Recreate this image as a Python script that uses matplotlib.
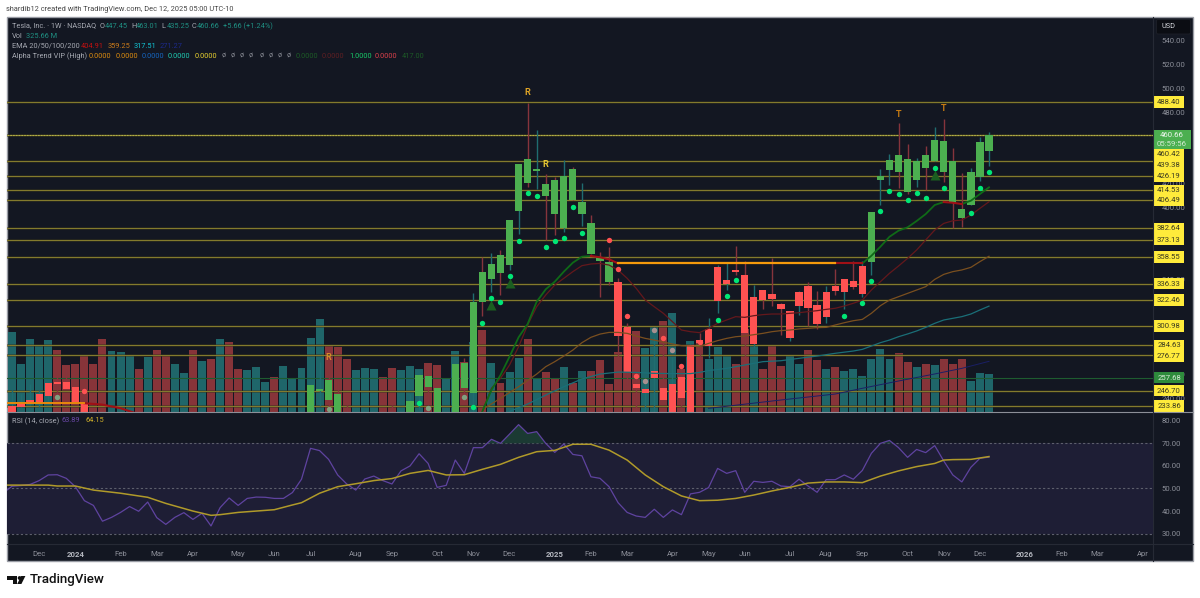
import matplotlib
matplotlib.use('Agg')
import matplotlib.pyplot as plt
from matplotlib.patches import Rectangle, Circle, Polygon, FancyBboxPatch
import numpy as np

plt.rcParams['font.family'] = ['Roboto', 'DejaVu Sans']

# weekly TSLA candles, None where the bar sits below the visible pane
opens = [225, 233.3, 235.5, 235.5, 242.2, 254, 254, 249.8, 236.4] + [None] * 24 + [
    225, 246.4, 255.6, 243.9, 227, None, None, None, None, 227, None,
    225, 242.2, 259, 248.9, None, 225, 269.9, 244.8, 346.4,
    340.5, 360.3, 351.9, 397.4, 441, 430.4, 419.5, 423.2, 382.7, 432.6,
    394.4, 386.9, 358.7, 354.7, 338, 300.3, 252.5, 244.5, 257.6, 249.2,
    225, 258.1, 225, 289.1, 284.4, 321.8, 336, 347.5, 343.6, 285.5,
    331, 327.7, 319.5, 290.8, 317.6, 334.1, 318.5, 308.7, 334.6, 329.3,
    338.6, 327.7, 354.5, 422.9, 431.3, 444.3, 440.5, 423.4, 443.8, 439.3,
    455.8, 439.1, 398.8, 401.9, 425.4, 447.45]
highs = [247.3, 244, 252.3, 247.3, 253.5, 259.8, 264.6, 250, 241.7] + [None] * 24 + [
    252, 271, 264.9, 255.6, 234.7, None, None, None, None, 234.7, None,
    244, 260.5, 264.9, 249, None, 269, 273.8, 328.8, 358.9,
    362, 364.5, 389.8, 436.8, 487.9, 465, 428.2, 425.9, 439.9, 434,
    420.6, 393.8, 362.6, 367.3, 341, 303.6, 257.3, 253.1, 292, 290.8,
    275.2, 268.2, 285.5, 294.7, 307.6, 352, 354.7, 367.9, 355.6, 335.2,
    331, 357.6, 320, 313.5, 330, 338, 330.4, 334.4, 348.9, 340.2,
    355.6, 355.6, 396.5, 432.1, 444.9, 471.1, 453.3, 441.3, 451.6, 467.3,
    474.2, 449.7, 428.8, 432.9, 458.9, 463.01]
lows = [220, 233, 235, 233.3, 236.4, 241.7, 248, 236.8, 220] + [None] * 24 + [
    220, 234.1, 233, 220, 220, None, None, None, None, 220, None,
    220, 230.6, 238, 220, None, 220, 245, 228, 309.5,
    329.6, 326.8, 347.8, 377.9, 417.5, 415.6, 372.9, 377, 379.8, 406.3,
    384.6, 361, 325.4, 335, 274, 251.4, 228, 228, 228, 236.4,
    220, 233.3, 220, 271, 274.1, 311.8, 331, 343.6, 273.2, 282.4,
    315.1, 317.6, 293.3, 288.6, 310.1, 300.9, 298.1, 303.4, 326.8, 314.8,
    331.8, 325.4, 343.6, 402.2, 418.9, 416.7, 411.4, 417.5, 414.8, 439,
    421.7, 382.7, 384, 401.9, 422.6, 435.25]
closes = [234.1, 236, 238.9, 243.9, 253.1, 252.3, 248.1, 237.2, 225] + [None] * 24 + [
    251.4, 247.7, 238.9, 225, 225, None, None, None, None, 225, None,
    238.3, 260.1, 249.8, 225, None, 268.8, 248.9, 321.2, 321,
    352.8, 345.2, 389.6, 436.5, 420.9, 432.1, 410, 394.7, 426.2, 406.4,
    404.7, 361.2, 355.3, 337.5, 292.5, 262.6, 249.2, 248.3, 263.2, 238.9,
    252.3, 240.8, 285, 286.6, 298.1, 350.3, 339.4, 346.1, 294.7, 324.9,
    322.4, 323.5, 315.1, 313.2, 329.6, 315.9, 302.3, 329.3, 330.2, 340,
    333.5, 350.9, 396.1, 426.2, 440.1, 429.8, 413.3, 439.1, 433.4, 456.6,
    429.6, 404.1, 391, 429.8, 454.9, 460.66]
# the Alpha Trend paint: index ranges of green bodies, all others red
green_body_ranges = [(33, 66), (95, 108)]

volume = [704, 417, 636, 575, 625, 543, 405, 414, 493, 422, 642, 534, 528, 490, 375,
          484, 543, 496, 414, 343, 537, 446, 458, 636, 616, 375, 367, 396, 258, 308,
          402, 296, 384, 651, 810, 575, 572, 458, 367, 384, 378, 308, 384, 361,
          399, 378, 425, 411, 299, 531, 437, 613, 716, 425, 255, 346, 475, 636, 290,
          346, 293, 396, 255, 355, 355, 455, 238, 522, 739, 707, 560, 745, 798, 868,
          370, 622,
          610, 466, 572, 493, 414, 722, 581, 370, 584, 399, 487, 419, 540, 452, 370,
          396, 358, 375, 314, 466, 546, 466, 513, 437, 390, 417, 405, 466, 414, 460,
          267, 340, 325.66]
volume_dirs = ('uuuuu' 'dddddd' 'uuu' 'd' 'u' 'dd' 'uu' 'd' 'u' 'd' 'u' 'dd' 'uuu' 'd'
               'uuuuu' 'ddd' 'uuu' 'dd' 'u'
               'uuddu' 'ududu' 'duududdudu' 'dddddd' 'uududu'
               'duuuddudddu' 'udduduuuuu' 'uddudu' 'ddduuu')

# horizontal study levels
level_prices = [488.40, 460.42, 439.38, 426.19, 414.53, 406.49, 382.64, 373.13, 358.55,
                336.33, 322.46, 300.98, 284.63, 276.77, 246.70, 233.86]
level_nudge_px = [0, 19, 4.4, 0, 0, 0.5, 0, 0, 0, 0, 0, 0, 0, 1, 0, 0]
last_close = 460.66
vol_line_price = 257.68

price_ticks = [540, 520, 500, 480, 420, 400, 340, 260, 240]
rsi_ticks = [30, 40, 50, 60, 70, 80]

# Alpha Trend segments
trend_rise_x = list(range(52, 65))
trend_rise = [229.4, 247.2, 259.8, 275.2, 291.4, 302.5, 321.2, 331.6, 338, 346.4, 353.9, 358.9, 359.5]
trend_fall_x = [64, 65, 66, 67]
trend_fall = [359.5, 358.4, 356.7, 353.3]
trend_rise2_x = list(range(94, 104))
trend_rise2 = [353.3, 359.7, 367.3, 375.6, 380.7, 383.5, 388.8, 394.6, 402.2, 404.7]
trend_dip_x = [103, 104, 105]
trend_dip = [404.7, 404.1, 403]
trend_rise3_x = [105, 106, 107, 108]
trend_rise3 = [403, 405.8, 411.4, 417]
flat_early_x = [-1, 8]
flat_early = [236.2, 236.2]
fall_early_x = [8, 10, 12, 14]
fall_early = [236.2, 235, 232, 227]
flat_mid_x = [67, 91]
flat_red_x = [91, 94]
flat_mid = [353.3, 353.3]

ema20_x = list(range(52, 109))
ema20 = [229.4, 248.6, 257, 268.2, 283.5, 301.7, 317, 326.8, 335.2, 340.8, 346.4, 351.4, 352.8,
         353.3, 351.9, 347.7, 340.8, 332.4, 322.6, 317, 311.5, 304.5, 297.5, 296.1, 295.3,
         298.9, 303.1, 305.9, 308.7, 308.1, 309.5, 310.4, 310.9, 310.9, 311.5, 312, 312.9,
         313.7, 314.8, 315.7, 317.6, 319.9, 322.6, 331, 338, 345, 351.1, 357.5, 364.5, 372.9,
         381.2, 386.8, 389, 389.6, 393.8, 399.4, 404.91]
ema50_x = [52, 54, 56] + list(range(58, 109))
ema50 = [231, 240.3, 250, 260.6, 266.8, 271, 275.7, 280.7, 286.9, 291.4, 294.1, 295.5, 295.5,
         294.7, 292.5, 290.5, 289.1, 287.4, 285.8, 284.4, 284.1, 283.5, 286.3, 288.6, 290.5,
         291.9, 292.5, 293.6, 294.7, 296.1, 297, 297.5, 298.4, 298.9, 299.5, 299.7, 301.7,
         303.6, 305.3, 306.4, 311.5, 317.9, 322.6, 325.4, 328.2, 331, 333.8, 339.9, 344.1,
         346.4, 347.8, 350, 354.8, 359.25]
ema100_x = [55, 57, 59, 61, 63, 65, 67, 69, 71, 73, 75, 76, 77, 79, 81, 83, 85, 87, 89, 91, 93,
            94, 95, 96, 97, 98, 99, 100, 101, 102, 103, 104, 105, 106, 107, 108]
ema100 = [229.4, 235.5, 243, 250, 256.5, 260.6, 262.3, 262, 261.2, 261, 261, 262, 263.5, 265.4,
          268.2, 271, 271.8, 273.8, 275.7, 278, 279.9, 281.3, 284.1, 286.9, 289.1, 291.9, 294.2,
          296.7, 299.7, 303.1, 305.9, 307.3, 308.7, 310.9, 314.3, 317.51]
ema200_x = [77, 85, 91, 94, 98, 102, 105, 108]
ema200 = [231.9, 238.9, 243.9, 248.7, 254.8, 260.7, 265.4, 271.27]

# Alpha Trend dots (index, price)
green_dot_x = [56, 57, 58, 59, 60, 61, 62, 63, 52, 53, 54, 55, 51, 45, 96, 97, 98, 99, 100, 101,
               102, 103, 106, 107, 108, 78, 79, 80, 92, 94, 95]
green_dot_y = [372.3, 411.9, 409.7, 367.3, 371.7, 374.5, 400.2, 378.7, 303.6, 324.3, 321, 342.7,
               233.3, 236, 396.9, 413.6, 411.1, 406.1, 412.2, 408.3, 433.2, 416.4, 395.8, 416.4,
               429.8, 305.9, 325.7, 339.7, 309, 320.1, 338.3]
dim_green_x = [5, 35, 46, 50]
dim_green_y = [241.4, 231, 232.4, 241.1]
red_dot_x = [8, 66, 67, 68, 69, 72, 74, 76]
red_dot_y = [246.7, 372.9, 348.6, 309.5, 259, 290.5, 267.3, 287.7]
dim_red_x = [70, 71, 73]
dim_red_y = [255, 297.5, 280.5]
triangle_x = [53, 55, 102]
triangle_y = [318.4, 336.6, 427.3]

letter_marks = ['R', 'R', 'R', 'T', 'T']
letter_x = [57, 59, 35, 98, 103]
letter_y = [496.8, 436.3, 274.1, 478.4, 483.4]
letter_colors = ['#e0a526', '#e8c832', '#d98a2b', '#c67a12', '#c67a12']

rsi_x = list(range(-1, 109))
rsi = [47.9, 51, 51.3, 51.8, 53.5, 56, 56.1, 54.5, 50.8, 44.6, 42.5, 35.5, 37.2, 39.4, 42, 39.9,
       44, 37.1, 34.1, 37.2, 39.3, 36.3, 39, 33.4, 41.5, 45.8, 42.5, 45.6, 46.2, 46.1, 45.6,
       45.6, 48.2, 54.1, 67.8, 66.8, 62.9, 56, 52, 49.3, 54.2, 55.5, 53.5, 52, 57.8, 60, 65.4,
       61.1, 50.5, 51.4, 62.6, 56.7, 68.1, 68.1, 71.8,
       70, 74.1, 78.3, 74.4, 75.2, 70, 66, 69.7, 65.1, 64.5, 55.2, 54.5, 50.8, 43.7, 39.4, 37.8,
       37.2, 40.8, 37.2, 40.5, 38.4, 47.6, 48.3, 50.4, 58.9, 56.7, 57.9, 48.3, 53.2, 52.7, 53.2,
       51.1, 50.8, 54.1, 51.1, 48.3, 53.9, 53.9, 56, 54.1, 58, 65.6, 70, 71.3, 68.1, 63.8, 67.3,
       65.9, 69, 62.2, 56, 52.9, 59.4, 63.4, 63.89]
rsi_ma_x = [-1, 4, 5, 7, 9, 12, 15, 17, 20, 22, 23, 25, 27, 29, 31, 32, 34, 36, 38, 40, 42, 44,
            46, 48, 50, 52, 54, 56, 58, 60, 62, 64, 66, 68, 70, 72, 74, 76, 78, 80, 82, 84, 86,
            88, 90, 92, 94, 96, 98, 100, 102, 103, 104, 106, 108]
rsi_ma = [51.5, 51.5, 51.1, 51.1, 49.3, 47.9, 46.1, 43.4, 40, 38.1, 38.4, 39.4, 40, 40.6, 42.7,
          43.7, 47.9, 50.8, 52.1, 53.5, 54.4, 56.7, 58, 56, 56.1, 58.5, 60.7, 63.8, 66.3, 66.9,
          69.6, 69.6, 67, 62.6, 56, 50.8, 46.7, 44.6, 44.8, 45.6, 47.1, 48.9, 50.5, 52.4, 52.9,
          52.9, 52.6, 55.5, 57.8, 59.7, 61.1, 62.6, 62.8, 62.9, 64.15]

time_ticks = [3, 7, 12, 16, 20, 25, 29, 33, 38, 42, 47, 51, 55, 60, 64, 68, 73, 77, 81, 86, 90,
              94, 99, 103, 107, 112, 116, 120, 125]
time_labels = ['Dec', '2024', 'Feb', 'Mar', 'Apr', 'May', 'Jun', 'Jul', 'Aug', 'Sep', 'Oct', 'Nov',
               'Dec', '2025', 'Feb', 'Mar', 'Apr', 'May', 'Jun', 'Jul', 'Aug', 'Sep', 'Oct', 'Nov',
               'Dec', '2026', 'Feb', 'Mar', 'Apr']

BG = '#131722'
W, H = 1200, 598
XMIN, XMAX = -0.553, 126.13
TXT = '#a6a9b2'
TICK = '#8b8e98'
SMALL = 5.35


def px_rect(x0, y0, x1, y1):
    return [x0 / W, 1 - y1 / H, (x1 - x0) / W, (y1 - y0) / H]


fig = plt.figure(figsize=(12, 5.98), dpi=100, facecolor='white')

back = fig.add_axes([0, 0, 1, 1], zorder=-5)
back.set_xlim(0, W)
back.set_ylim(H, 0)
back.axis('off')
back.add_patch(Rectangle((7, 17), 1186, 544, fc=BG, ec='#9a9da5', lw=1))

# price pane, volume on a twin below it
ax = fig.add_axes(px_rect(7, 16.5, 1153, 411.5), zorder=2)
vol_ax = ax.twinx()
ax.set_zorder(vol_ax.get_zorder() + 1)
ax.patch.set_visible(False)
vol_ax.patch.set_visible(False)
ax.set_xlim(XMIN, XMAX)
ax.set_ylim(229.26, 560.07)
vol_ax.set_ylim(0, 3476)
vol_ax.set_yticks([])
for a in (ax, vol_ax):
    for s in a.spines.values():
        s.set_visible(False)

idx = np.arange(len(closes))
vol_colors = ['#1f666a' if d == 'u' else '#873439' for d in volume_dirs]
vol_ax.bar(idx, volume, width=0.88, color=vol_colors, linewidth=0)

o, h, l, c = [np.array(v, dtype=float) for v in (opens, highs, lows, closes)]
wick_colors = ['#1f6d70' if cc >= oo else '#86343c' for oo, cc in zip(o, c)]
for level in level_prices:
    ax.axhline(level, color='#080a10', lw=1.8, alpha=0.45, zorder=1)
    ax.axhline(level, color='#837a2d', lw=1.0, zorder=1.5)
ax.axhline(last_close, color='#b0ae4a', lw=0.8, ls=(0, (1.5, 1)), zorder=1.6)
ax.axhline(vol_line_price, color='#1e5c30', lw=0.8, zorder=1.5)

ax.vlines(idx, l, h, colors=wick_colors, lw=1.0, zorder=2)
body_colors = np.array(['#ff5252'] * len(c), dtype=object)
for start, stop in green_body_ranges:
    body_colors[start:stop + 1] = '#4caf50'
body_low = np.minimum(o, c)
body_height = np.abs(c - o)
ax.bar(idx, body_height, bottom=body_low, width=0.8, color=list(body_colors), linewidth=0, zorder=3)

ax.plot(ema200_x, ema200, color='#1a1f66', lw=0.7, zorder=4)
ax.plot(ema100_x, ema100, color='#1a6f78', lw=0.9, zorder=4)
ax.plot(ema50_x, ema50, color='#7a4f1f', lw=0.9, zorder=4)
ax.plot(ema20_x, ema20, color='#64181c', lw=0.9, zorder=4)

for xs, ys in ((trend_rise_x, trend_rise), (trend_rise2_x, trend_rise2), (trend_rise3_x, trend_rise3)):
    ax.plot(xs, ys, color='#0f6a17', lw=1.3, zorder=4.2)
for xs, ys in ((trend_fall_x, trend_fall), (trend_dip_x, trend_dip), (flat_red_x, flat_mid), (fall_early_x, fall_early)):
    ax.plot(xs, ys, color='#a01016', lw=1.5, zorder=4.2)
ax.plot(flat_mid_x, flat_mid, color='#f59a0c', lw=1.6, zorder=4.2)
ax.plot(flat_early_x, flat_early, color='#e8890c', lw=1.4, zorder=4.2)

ax.scatter(triangle_x, triangle_y, marker='^', s=52, color='#1b5e20', linewidth=0, zorder=4.4)
ax.scatter(green_dot_x, green_dot_y, s=15, color='#00e676', linewidth=0, zorder=5)
ax.scatter(dim_green_x, dim_green_y, s=15, color='#80a080', linewidth=0, zorder=5)
ax.scatter(red_dot_x, red_dot_y, s=15, color='#ff5252', linewidth=0, zorder=5)
ax.scatter(dim_red_x, dim_red_y, s=15, color='#a89090', linewidth=0, zorder=5)
for mark, mx, my, mc in zip(letter_marks, letter_x, letter_y, letter_colors):
    ax.text(mx, my, mark, color=mc, fontsize=6.5, fontweight='bold', ha='center', va='center', zorder=5)

ax.yaxis.tick_right()
ax.set_yticks(price_ticks)
ax.set_yticklabels([f'{t:.2f}' for t in price_ticks])
ax.tick_params(axis='y', length=0, pad=6, labelsize=SMALL + 0.2, labelcolor=TICK)
ax.set_xticks([])


def price_tag(price, nudge, bg, fg):
    ax.annotate(f'{price:.2f}', xy=(1, price), xycoords=ax.get_yaxis_transform(),
                xytext=(16, -nudge), textcoords='offset pixels', annotation_clip=False,
                ha='center', va='center', fontsize=SMALL + 0.2, color=fg, zorder=20,
                bbox=dict(boxstyle='square,pad=0.36', fc=bg, ec='none'))


for level, nudge in zip(level_prices, level_nudge_px):
    price_tag(level, nudge, '#ffeb3b', '#3a3a20')
price_tag(vol_line_price, 0, '#2e8b3c', '#d8ecd8')

# RSI pane
rsi_ax = fig.add_axes(px_rect(7, 412, 1153, 544), zorder=3)
rsi_ax.patch.set_visible(False)
rsi_ax.set_xlim(XMIN, XMAX)
rsi_ax.set_ylim(25.4, 83.9)
for s in rsi_ax.spines.values():
    s.set_visible(False)
rsi_ax.axhspan(30, 70, color='#1e1e35', lw=0, zorder=0)
for g in (30, 50, 70):
    rsi_ax.axhline(g, color='#5d5f6c', lw=0.8, ls=(0, (2, 2)), zorder=1)
rsi_arr = np.array(rsi)
rsi_ax.fill_between(rsi_x, 70, rsi_arr, where=rsi_arr > 70, interpolate=True, color='#1b3a33', lw=0, zorder=1)
rsi_ax.plot(rsi_x, rsi, color='#5f43a0', lw=0.9, zorder=2)
rsi_ax.plot(rsi_ma_x, rsi_ma, color='#b09a2a', lw=1.1, zorder=3)
rsi_ax.yaxis.tick_right()
rsi_ax.set_yticks(rsi_ticks)
rsi_ax.set_yticklabels([f'{t:.2f}' for t in rsi_ticks])
rsi_ax.tick_params(axis='y', length=0, pad=6, labelsize=SMALL + 0.2, labelcolor=TICK)
rsi_ax.set_xticks(time_ticks)
rsi_ax.set_xticklabels(time_labels)
rsi_ax.tick_params(axis='x', length=0, pad=5, labelsize=SMALL + 0.2, labelcolor=TICK)
for lab in rsi_ax.get_xticklabels():
    if lab.get_text().isdigit():
        lab.set_fontweight('bold')
        lab.set_color('#b5b8c0')

# page furniture, drawn in pixel coordinates
top = fig.add_axes([0, 0, 1, 1], zorder=10)
top.set_xlim(0, W)
top.set_ylim(H, 0)
top.axis('off')
top.patch.set_visible(False)
top.plot([7, 1193], [411.5, 411.5], color='#8c8f98', lw=0.8)
top.plot([7, 1193], [544, 544], color='#262a35', lw=0.8)
top.plot([1153, 1153], [17, 561], color='#262a35', lw=0.8)


def label(x, y, s, color=TXT, size=SMALL, **kw):
    top.text(x, y, s, color=color, fontsize=size, va='center', ha=kw.pop('ha', 'left'), **kw)


label(6.5, 9.5, 'shardib12 created with TradingView.com, Dec 12, 2025 05:00 UTC-10', color='#444444', size=5.35)
TEAL = '#1f8f82'
label(11.5, 26, 'Tesla, Inc. · 1W · NASDAQ')
for x, head, val in [(100, 'O', '447.45'), (131, 'H', '463.01'), (161.5, 'L', '435.25'), (192, 'C', '460.66')]:
    label(x, 26, head, color=TXT)
    label(x + 4.8, 26, val, color=TEAL)
label(223, 26, '+5.66 (+1.24%)', color=TEAL)
label(11.5, 36.5, 'Vol')
label(25.5, 36.5, '325.66 M', color=TEAL)
label(11.5, 46.5, 'EMA 20/50/100/200')
for x, val, col in [(81, '404.91', '#c41010'), (108, '359.25', '#c97a1a'), (134, '317.51', '#12c4d4'), (160, '271.27', '#1c2a8c')]:
    label(x, 46.5, val, color=col)
label(11.5, 56.5, 'Alpha Trend VIP (High)')
for x, val, col in [(89, '0.0000', '#d98a10'), (116, '0.0000', '#d98a10'), (142, '0.0000', '#1565c0'),
                    (168, '0.0000', '#1fc9b0'), (195, '0.0000', '#e6cf30'), (296, '0.0000', '#1c5a26'),
                    (322, '0.0000', '#5e1f22'), (349, '1.0000', '#18c868'), (375, '0.0000', '#d9404a'),
                    (402, '417.00', '#1c5a26')]:
    label(x, 56.5, val, color=col)
for x in (222, 231, 240, 249, 259.5, 269, 278, 287):
    label(x, 56.5, 'ø', color='#80838c')

label(11.5, 421, 'RSI (14, close)')
label(62, 421, '63.89', color='#6a48a8')
label(85, 421, '64.15', color='#d0b02a')

top.add_patch(FancyBboxPatch((1157, 20), 33, 13.5, boxstyle='round,pad=0.5,rounding_size=1.5', fc='#0b0d13', ec='#1d2029', lw=0.6))
label(1161, 26.5, 'USD', color='#d5d7dd')

top.add_patch(Rectangle((1154, 130), 36.5, 19, fc='#4caf50', ec='none'))
label(1172, 135, '460.66', color='#f0f7f0', ha='center', size=SMALL + 0.2)
label(1172, 144, '05:59:56', color='#d4ebd4', ha='center', size=SMALL + 0.2)

# TradingView mark and wordmark
top.add_patch(Polygon([(7.3, 576), (17.3, 576), (17.3, 584), (12.5, 584), (12.5, 580), (7.3, 580)], fc='#111111', ec='none'))
top.add_patch(Circle((19.6, 578), 1.9, fc='#111111', ec='none'))
top.add_patch(Polygon([(21.2, 576), (25.4, 576), (21.4, 584), (17.2, 584)], fc='#111111', ec='none'))
label(30, 580, 'TradingView', color='#111111', size=9.6, fontweight='medium')

fig.savefig('out.png', dpi=100, facecolor='white')
